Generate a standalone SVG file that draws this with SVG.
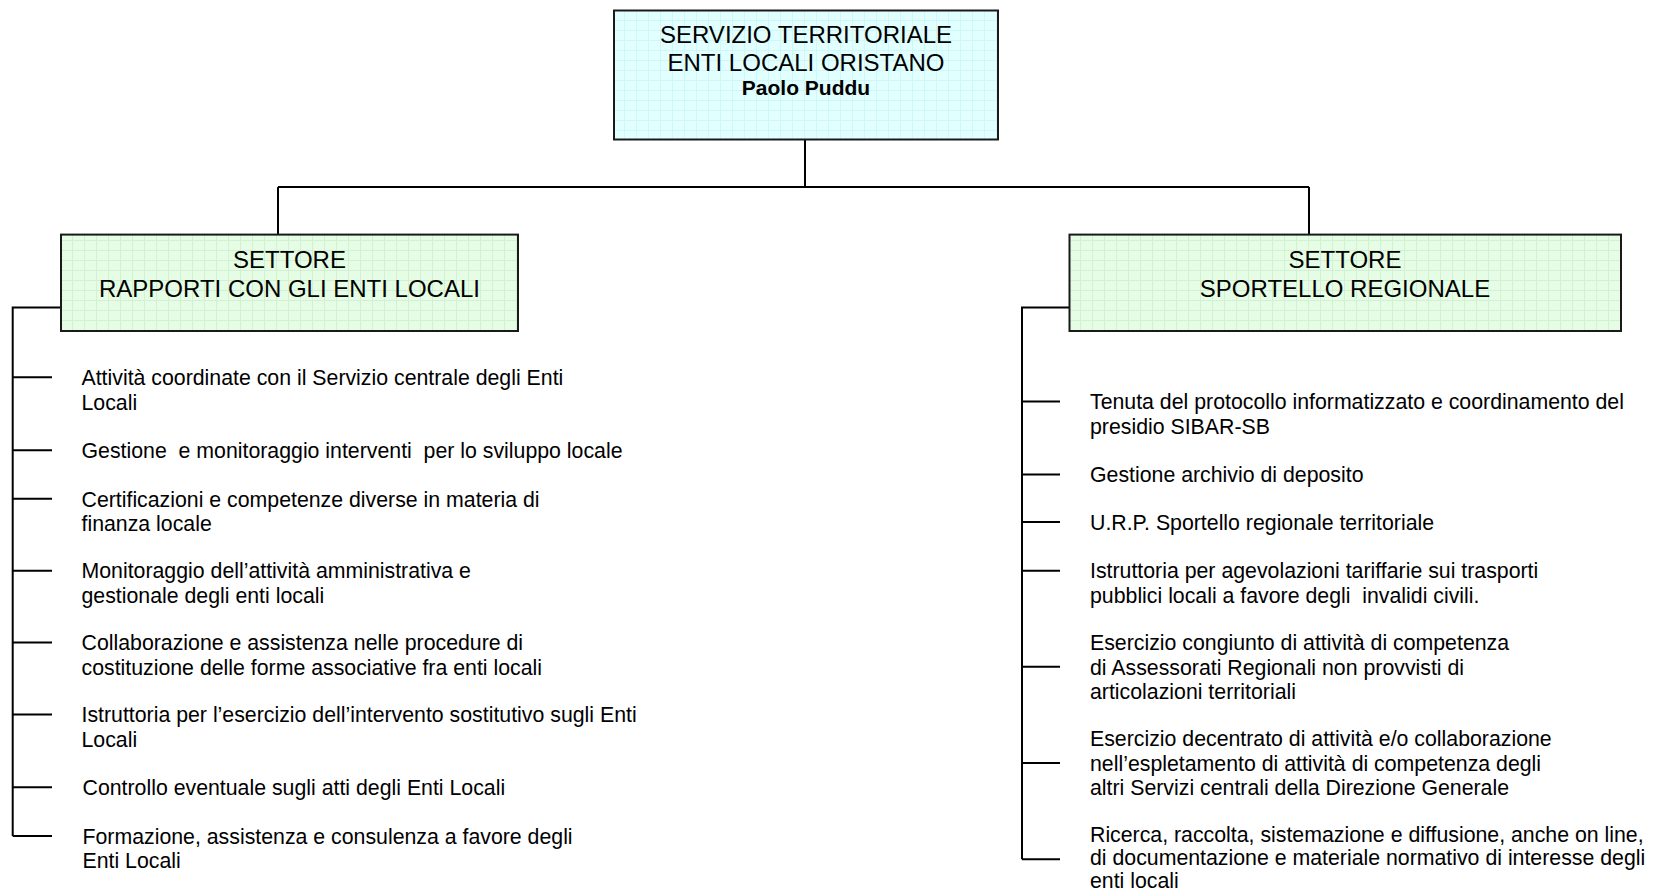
<svg xmlns="http://www.w3.org/2000/svg" width="1657" height="893" viewBox="0 0 1657 893">
<style>
  .box { stroke: #1a1a1a; stroke-width: 2; }
  .ttl { font-family: "Liberation Sans", Arial, sans-serif; font-size: 24px; fill: #000; text-anchor: middle; }
  .bold { font-family: "Liberation Sans", Arial, sans-serif; font-size: 21px; font-weight: bold; fill: #000; text-anchor: middle; }
  .item { font-family: "Liberation Sans", Arial, sans-serif; font-size: 21.3px; fill: #000; white-space: pre; }
  .conn { fill: none; stroke: #000; stroke-width: 2; }
</style>
<defs>
  <pattern id="gridCyan" width="12" height="10" patternUnits="userSpaceOnUse">
    <rect width="12" height="10" fill="#e2ffff"/>
    <path d="M0,0.5 H12 M0.5,0 V10" stroke="#d0f7f7" stroke-width="1" fill="none"/>
  </pattern>
  <pattern id="gridGreen" width="12" height="10" patternUnits="userSpaceOnUse">
    <rect width="12" height="10" fill="#e4fde4"/>
    <path d="M0,0.5 H12 M0.5,0 V10" stroke="#d4f0d4" stroke-width="1" fill="none"/>
  </pattern>
</defs>
<rect width="1657" height="893" fill="#ffffff"/>

<g id="connectors">
  <path class="conn" d="M805,139.5 V187 M278,187 H1309 M278,187 V234.6 M1309,187 V234.6"/>
  <path class="conn" d="M61,307.5 H12.7 V835.9 M12.7,377.3 H52 M12.7,450.2 H52 M12.7,498.8 H52 M12.7,570.7 H52 M12.7,642.5 H52 M12.7,714.4 H52 M12.7,787.3 H52 M12.7,835.9 H52"/>
  <path class="conn" d="M1069.5,307.5 H1022 V859.2 M1022,401.6 H1060 M1022,474.5 H1060 M1022,522.1 H1060 M1022,570.7 H1060 M1022,666.8 H1060 M1022,763 H1060 M1022,859.2 H1060"/>
</g>

<g id="servizio">
  <rect class="box" x="614" y="10.5" width="384" height="129" fill="url(#gridCyan)"/>
  <text class="ttl" x="806" y="43.3">SERVIZIO TERRITORIALE</text>
  <text class="ttl" x="806" y="70.8">ENTI LOCALI ORISTANO</text>
  <text class="bold" x="806" y="95.1">Paolo Puddu</text>
</g>

<g id="settore-rapporti">
  <rect class="box" x="61" y="234.6" width="457" height="96.4" fill="url(#gridGreen)"/>
  <text class="ttl" x="289.5" y="268.4">SETTORE</text>
  <text class="ttl" x="289.5" y="297">RAPPORTI CON GLI ENTI LOCALI</text>
</g>

<g id="settore-sportello">
  <rect class="box" x="1069.5" y="234.6" width="551.5" height="96.4" fill="url(#gridGreen)"/>
  <text class="ttl" x="1345" y="268.4">SETTORE</text>
  <text class="ttl" x="1345" y="297">SPORTELLO REGIONALE</text>
</g>

<g id="items-rapporti">
  <text class="item" x="81.5" y="385">Attività coordinate con il Servizio centrale degli Enti</text>
  <text class="item" x="81.5" y="409.5">Locali</text>
  <text class="item" x="81.5" y="458">Gestione  e monitoraggio interventi  per lo sviluppo locale</text>
  <text class="item" x="81.5" y="506.5">Certificazioni e competenze diverse in materia di</text>
  <text class="item" x="81.5" y="531">finanza locale</text>
  <text class="item" x="81.5" y="578.4">Monitoraggio dell’attività amministrativa e</text>
  <text class="item" x="81.5" y="602.9">gestionale degli enti locali</text>
  <text class="item" x="81.5" y="650.2">Collaborazione e assistenza nelle procedure di</text>
  <text class="item" x="81.5" y="674.7">costituzione delle forme associative fra enti locali</text>
  <text class="item" x="81.5" y="722.1">Istruttoria per l’esercizio dell’intervento sostitutivo sugli Enti</text>
  <text class="item" x="81.5" y="746.6">Locali</text>
  <text class="item" x="82.5" y="795">Controllo eventuale sugli atti degli Enti Locali</text>
  <text class="item" x="82.5" y="843.6">Formazione, assistenza e consulenza a favore degli</text>
  <text class="item" x="82.5" y="868.1">Enti Locali</text>
</g>

<g id="items-sportello">
  <text class="item" x="1090" y="409.3">Tenuta del protocollo informatizzato e coordinamento del</text>
  <text class="item" x="1090" y="433.8">presidio SIBAR-SB</text>
  <text class="item" x="1090" y="482.2">Gestione archivio di deposito</text>
  <text class="item" x="1090" y="529.8">U.R.P. Sportello regionale territoriale</text>
  <text class="item" x="1090" y="578.4">Istruttoria per agevolazioni tariffarie sui trasporti</text>
  <text class="item" x="1090" y="602.9">pubblici locali a favore degli  invalidi civili.</text>
  <text class="item" x="1090" y="650">Esercizio congiunto di attività di competenza</text>
  <text class="item" x="1090" y="674.5">di Assessorati Regionali non provvisti di</text>
  <text class="item" x="1090" y="699">articolazioni territoriali</text>
  <text class="item" x="1090" y="746.2">Esercizio decentrato di attività e/o collaborazione</text>
  <text class="item" x="1090" y="770.7">nell’espletamento di attività di competenza degli</text>
  <text class="item" x="1090" y="795.2">altri Servizi centrali della Direzione Generale</text>
  <text class="item" x="1090" y="842.2">Ricerca, raccolta, sistemazione e diffusione, anche on line,</text>
  <text class="item" x="1090" y="865.4">di documentazione e materiale normativo di interesse degli</text>
  <text class="item" x="1090" y="888.2">enti locali</text>
</g>
</svg>
